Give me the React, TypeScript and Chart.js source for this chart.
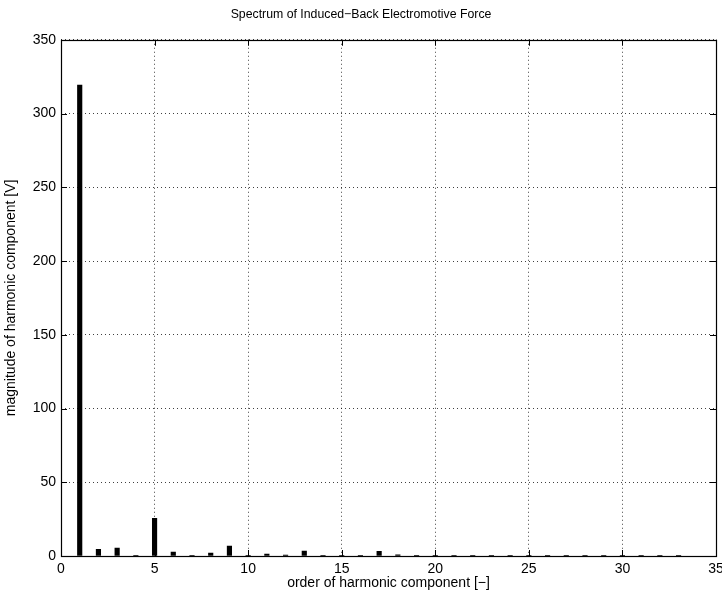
import React, { useEffect, useRef } from "react";
import { Chart, registerables } from "chart.js";

Chart.register(...registerables);

const harmonicOrders = [1, 2, 3, 4, 5, 6, 7, 8, 9, 10, 11, 12, 13, 14, 15, 16, 17, 18, 19, 20, 21, 22, 23, 24, 25, 26, 27, 28, 29, 30, 31, 32, 33];
const magnitudes = [319.3, 4.5, 5.4, 0.5, 25.5, 2.7, 0.4, 2.0, 6.8, 0.2, 1.3, 0.6, 3.4, 0.3, 0.2, 0.2, 3.2, 0.8, 0.4, 0.2, 0.5, 0.3, 0.4, 0.3, 0.5, 0.2, 0.2, 0.1, 0.2, 0.1, 0.2, 0.1, 0.1];
const xTicks = [0, 5, 10, 15, 20, 25, 30, 35];
const yTicks = [0, 50, 100, 150, 200, 250, 300, 350];

const titleText = "Spectrum of Induced\u2212Back Electromotive Force";
const xTitle = "order of harmonic component [\u2212]";
const yTitle = "magnitude of harmonic component [V]";

const FONT = "'Liberation Sans', Arial, Helvetica, sans-serif";

const boxPlugin = {
  id: "matlabBox",
  afterDatasetsDraw(chart: any) {
    const { ctx, chartArea, scales } = chart;
    const { left, right, top, bottom } = chartArea;
    const tl = 6;
    ctx.save();
    ctx.strokeStyle = "#000";
    ctx.lineWidth = 1;
    ctx.beginPath();
    xTicks.forEach((v) => {
      const x = Math.round(scales.x.getPixelForValue(v)) + 0.5;
      ctx.moveTo(x, bottom);
      ctx.lineTo(x, bottom - tl);
      ctx.moveTo(x, top);
      ctx.lineTo(x, top + tl);
    });
    yTicks.forEach((v) => {
      const y = Math.round(scales.y.getPixelForValue(v)) + 0.5;
      ctx.moveTo(left, y);
      ctx.lineTo(left + tl, y);
      ctx.moveTo(right, y);
      ctx.lineTo(right - tl, y);
    });
    ctx.stroke();
    ctx.lineWidth = 1.2;
    ctx.strokeRect(Math.round(left) + 0.5, Math.round(top) + 0.5, Math.round(right - left), Math.round(bottom - top));
    ctx.restore();
  },
};

export default function App() {
  const ref = useRef<HTMLCanvasElement>(null);
  useEffect(() => {
    document.body.style.margin = "0";
    const canvas = ref.current;
    if (!canvas) return;
    const chart = new Chart(canvas, {
      type: "bar",
      data: {
        datasets: [
          {
            data: harmonicOrders.map((h, i) => ({ x: h, y: magnitudes[i] })),
            backgroundColor: "#000",
            borderWidth: 0,
            barThickness: 4.5,
          },
        ],
      },
      options: {
        responsive: false,
        animation: false,
        devicePixelRatio: 1,
        layout: { padding: { left: 0, right: 0, top: 0, bottom: 0 } },
        plugins: {
          legend: { display: false },
          tooltip: { enabled: false },
          title: {
            display: true,
            text: titleText,
            color: "#000",
            font: { family: FONT, size: 12.3, weight: "normal" },
            padding: { top: 7, bottom: 18 },
          },
        },
        scales: {
          x: {
            type: "linear",
            offset: false,
            min: 0,
            max: 35,
            afterBuildTicks(scale: any) {
              scale.ticks = xTicks.map((v) => ({ value: v }));
            },
            afterFit(scale: any) {
              scale.height = 39;
              scale.paddingLeft = 0;
              scale.paddingRight = 6;
            },
            grid: {
              offset: false,
              drawTicks: false,
              color: "rgba(0,0,0,0.75)",
              lineWidth: 1,
            },
            border: { display: false, dash: [1, 3] },
            ticks: {
              color: "#000",
              padding: 5,
              font: { family: FONT, size: 14 },
              maxRotation: 0,
            },
            title: {
              display: true,
              text: xTitle,
              color: "#000",
              font: { family: FONT, size: 14 },
              padding: { top: 0, bottom: 3 },
            },
          },
          y: {
            type: "linear",
            min: 0,
            max: 350,
            afterBuildTicks(scale: any) {
              scale.ticks = yTicks.map((v) => ({ value: v }));
            },
            afterFit(scale: any) {
              scale.width = 61;
              scale.paddingTop = 0;
              scale.paddingBottom = 0;
            },
            grid: {
              drawTicks: false,
              color: "rgba(0,0,0,0.75)",
              lineWidth: 1,
            },
            border: { display: false, dash: [1, 3] },
            ticks: {
              color: "#000",
              padding: 5,
              font: { family: FONT, size: 14 },
            },
            title: {
              display: true,
              text: yTitle,
              color: "#000",
              font: { family: FONT, size: 14 },
              padding: { top: 3, bottom: 0 },
            },
          },
        },
      },
      plugins: [boxPlugin],
    } as any);
    return () => chart.destroy();
  }, []);
  return (
    <div style={{ position: "absolute", left: 0, top: 0, width: 722, height: 595 }}>
      <canvas ref={ref} width={722} height={595} style={{ width: 722, height: 595 }} />
    </div>
  );
}
